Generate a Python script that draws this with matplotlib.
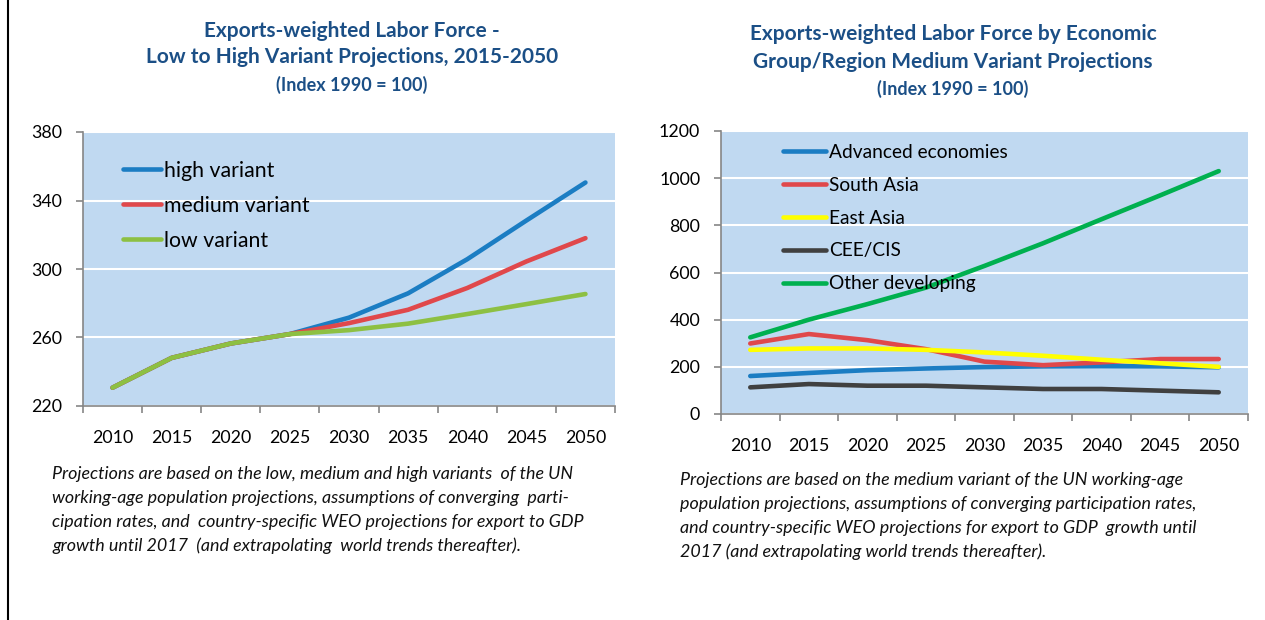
import matplotlib
matplotlib.use("Agg")
import matplotlib.pyplot as plt
from matplotlib.lines import Line2D

plt.rcParams['font.family'] = ['Lato', 'DejaVu Sans']

years = ['2010', '2015', '2020', '2025', '2030', '2035', '2040', '2045', '2050']

# Left chart: variants
high_variant = [230.7, 248.1, 256.5, 262.0, 271.6, 285.8, 305.7, 328.3, 350.5]
medium_variant = [230.7, 248.1, 256.5, 262.0, 268.4, 276.2, 288.9, 304.4, 318.0]
low_variant = [230.7, 248.1, 256.5, 262.0, 264.3, 268.1, 273.7, 279.5, 285.4]
left_yticks = [220, 260, 300, 340, 380]

# Right chart: regions
advanced = [161, 174, 186, 193, 199, 202, 203, 202, 198]
south_asia = [299, 339, 313, 275, 222, 207, 219, 233, 233]
east_asia = [272, 278, 278, 272, 261, 247, 230, 215, 200]
cee_cis = [113, 127, 120, 120, 113, 106, 106, 99, 92]
other_dev = [325, 400, 466, 536, 628, 724, 826, 927, 1030]
right_yticks = [0, 200, 400, 600, 800, 1000, 1200]

W, H = 1265, 620
fig = plt.figure(figsize=(W / 100, H / 100), dpi=100)
fig.patch.set_facecolor('white')

BG = '#C0D9F1'
AXC = '#868686'
TITLE_C = '#1B4F86'


def px_axes(l, t, r, b):
    return fig.add_axes([l / W, 1 - b / H, (r - l) / W, (b - t) / H])


def style(ax, yticks):
    ax.set_facecolor(BG)
    for s in ['top', 'right']:
        ax.spines[s].set_visible(False)
    for s in ['left', 'bottom']:
        ax.spines[s].set_color(AXC)
        ax.spines[s].set_linewidth(1.2)
    x = list(range(len(years)))
    ax.set_xlim(-0.5, len(years) - 0.5)
    ax.set_xticks(x)
    ax.set_xticklabels(years, fontsize=12.8)
    ax.set_xticks([i - 0.5 for i in range(len(years) + 1)], minor=True)
    ax.tick_params(axis='x', which='major', length=0, pad=17)
    ax.tick_params(axis='x', which='minor', length=5, color=AXC, width=1.2)
    ax.set_yticks(yticks)
    ax.set_ylim(yticks[0], yticks[-1])
    ax.tick_params(axis='y', length=5, color=AXC, width=1.2, labelsize=12.8, pad=10)
    ax.yaxis.grid(True, color='white', linewidth=1.5)
    ax.set_axisbelow(True)
    return x


# Left chart
ax1 = px_axes(83, 132, 615, 406)
x = style(ax1, left_yticks)
lw = 3.3
ax1.plot(x, high_variant, color='#1B7DC3', lw=lw, label='high variant', solid_capstyle='round')
ax1.plot(x, medium_variant, color='#E0484B', lw=lw, label='medium variant', solid_capstyle='round')
ax1.plot(x, low_variant, color='#8DC043', lw=lw, label='low variant', solid_capstyle='round')
leg1 = ax1.legend(loc='upper left', bbox_to_anchor=(0.056, 0.934), frameon=False, fontsize=15.3,
                  handlelength=1.77, handletextpad=0.14, labelspacing=0.71, borderpad=0)

# Right chart
ax2 = px_axes(721, 131, 1248, 414)
x = style(ax2, right_yticks)
ax2.plot(x, advanced, color='#1B7DC3', lw=lw, label='Advanced economies', solid_capstyle='round')
ax2.plot(x, south_asia, color='#E0484B', lw=lw, label='South Asia', solid_capstyle='round')
ax2.plot(x, east_asia, color='#FFFF00', lw=lw, label='East Asia', solid_capstyle='round')
ax2.plot(x, cee_cis, color='#404040', lw=lw, label='CEE/CIS', solid_capstyle='round')
ax2.plot(x, other_dev, color='#00B04F', lw=lw, label='Other developing', solid_capstyle='round')
leg2 = ax2.legend(loc='upper left', bbox_to_anchor=(0.10, 0.989), frameon=False, fontsize=13.8,
                  handlelength=2.24, handletextpad=0.15, labelspacing=0.83, borderpad=0)

# Titles
fig.text(352 / W, 1 - 31 / H, 'Exports-weighted Labor Force -', ha='center', va='center',
         fontsize=15, fontweight='bold', color=TITLE_C)
fig.text(352 / W, 1 - 57 / H, 'Low to High Variant Projections, 2015-2050', ha='center', va='center',
         fontsize=15, fontweight='bold', color=TITLE_C)
fig.text(352 / W, 1 - 85 / H, '(Index 1990 = 100)', ha='center', va='center',
         fontsize=13, fontweight='bold', color=TITLE_C)

fig.text(953 / W, 1 - 34 / H, 'Exports-weighted Labor Force by Economic', ha='center', va='center',
         fontsize=15, fontweight='bold', color=TITLE_C)
fig.text(953 / W, 1 - 62 / H, 'Group/Region Medium Variant Projections', ha='center', va='center',
         fontsize=15, fontweight='bold', color=TITLE_C)
fig.text(953 / W, 1 - 89 / H, '(Index 1990 = 100)', ha='center', va='center',
         fontsize=13, fontweight='bold', color=TITLE_C)

# Footnotes
left_note = ['Projections are based on the low, medium and high variants  of the UN',
             'working-age population projections, assumptions of converging  parti-',
             'cipation rates, and  country-specific WEO projections for export to GDP',
             'growth until 2017  (and extrapolating  world trends thereafter).']
right_note = ['Projections are based on the medium variant of the UN working-age',
              'population projections, assumptions of converging participation rates,',
              'and country-specific WEO projections for export to GDP  growth until',
              '2017 (and extrapolating world trends thereafter).']
for i, line in enumerate(left_note):
    fig.text(52 / W, 1 - (474 + 24 * i) / H, line, ha='left', va='center',
             fontsize=12.9, fontstyle='italic', color='#111111')
for i, line in enumerate(right_note):
    fig.text(680 / W, 1 - (480 + 24 * i) / H, line, ha='left', va='center',
             fontsize=12.9, fontstyle='italic', color='#111111')

# Left frame border
fig.add_artist(Line2D([8 / W, 8 / W], [0, 1], color='black', lw=1.5, transform=fig.transFigure))

fig.savefig('out.png', dpi=100)
